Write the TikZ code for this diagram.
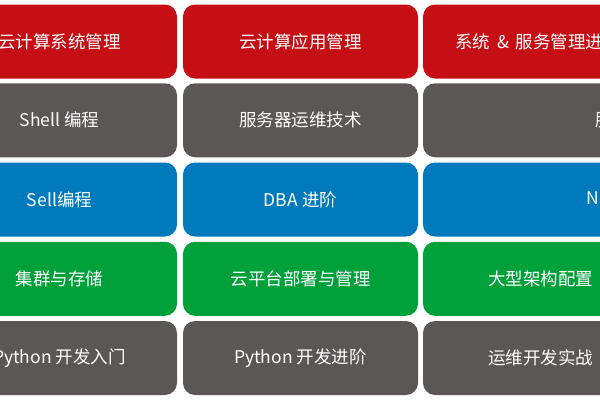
\documentclass[tikz,border=0pt]{standalone}
\usepackage{fontspec}
\setmainfont{Noto Sans CJK SC}
\definecolor{cred}{HTML}{C50F14}
\definecolor{cgray}{HTML}{5B5756}
\definecolor{cblue}{HTML}{007ABD}
\definecolor{cgreen}{HTML}{00A03A}
\tikzset{
  tile/.style={rounded corners=12pt, minimum width=235pt, minimum height=74pt, inner sep=0pt, text=white, font=\fontsize{17.5pt}{20pt}\selectfont},
  redtile/.style={tile, fill=cred},
  graytile/.style={tile, fill=cgray},
  bluetile/.style={tile, fill=cblue},
  greentile/.style={tile, fill=cgreen},
  label/.style={text=white, font=\fontsize{17.5pt}{20pt}\selectfont, inner sep=0pt, anchor=west}
}
\begin{document}
\begin{tikzpicture}[x=1pt,y=-1pt]
\path[use as bounding box] (0,0) rectangle (600,400);
\clip (0,0) rectangle (600,400);
% row 1
\node[redtile] (r1a) at (59.5,41.5) {云计算系统管理};
\node[redtile] (r1b) at (300.5,41.5) {云计算应用管理};
\node[redtile] (r1c) at (540.5,41.5) {};
\node[label] (t1c) at (455,41.5) {系统\hspace{3pt} \&\hspace{3pt} 服务管理进阶};
% row 2
\node[graytile] (r2a) at (59.5,120.25) {Shell 编程};
\node[graytile] (r2b) at (300.5,120.25) {服务器运维技术};
\node[graytile] (r2c) at (540.5,120.25) {};
\node[label] (t2c) at (595.5,120.25) {服务};
% row 3
\node[bluetile] (r3a) at (59.5,199.5) {Sell编程};
\node[bluetile] (r3b) at (300.5,199.5) {DBA 进阶};
\node[bluetile] (r3c) at (540.5,199.5) {};
\node[label] (t3c) at (586.5,199.5) {NoSQL};
% row 4
\node[greentile] (r4a) at (59.5,278.75) {集群与存储};
\node[greentile] (r4b) at (300.5,278.75) {云平台部署与管理};
\node[greentile] (r4c) at (540.5,278.75) {大型架构配置};
% row 5
\node[graytile] (r5a) at (59.5,358) {Python 开发入门};
\node[graytile] (r5b) at (300.5,358) {Python 开发进阶};
\node[graytile] (r5c) at (540.5,358) {运维开发实战};
\end{tikzpicture}
\end{document}
